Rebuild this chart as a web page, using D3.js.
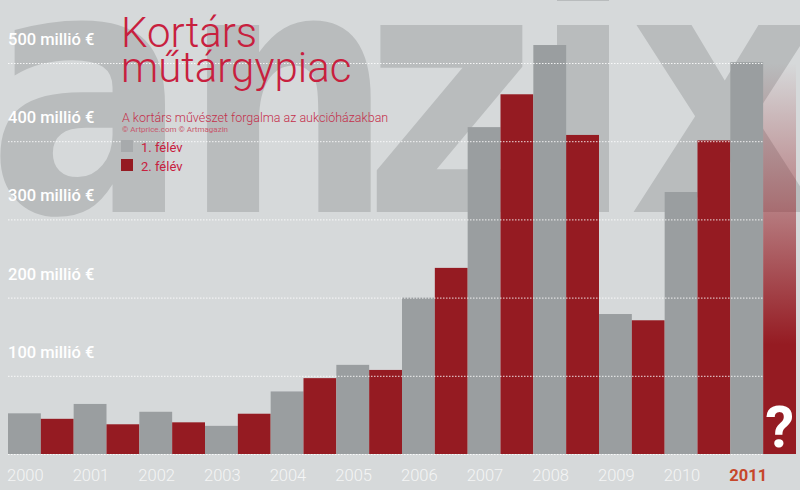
<!DOCTYPE html>
<html>
<head>
<meta charset="utf-8">
<script src="https://cdn.jsdelivr.net/npm/d3@7/dist/d3.min.js"></script>
<style>
  html, body { margin: 0; padding: 0; background: #d6d9da; }
  svg { display: block; }
</style>
</head>
<body>
<div id="chart"></div>
<script>
// adatok (millió €), leolvasva
const years = ['2000', '2001', '2002', '2003', '2004', '2005', '2006', '2007', '2008', '2009', '2010', '2011'];
const firstHalf = [52, 64, 54, 36, 80, 114, 200, 418, 523, 179, 335, 501];
const secondHalf = [45, 38, 40.5, 51.5, 97, 107.5, 238, 460, 408, 171, 401, null]; // 2011 második félév: ?
const yTicks = [0, 100, 200, 300, 400, 500];
const seriesLabels = ['1. félév', '2. félév'];
const highlightYear = '2011';

const width = 800, height = 490;
const grey = '#9a9ea0', red = '#951b22', titleRed = '#c8203e';

const svg = d3.select('#chart').append('svg')
  .attr('width', width)
  .attr('height', height);

svg.append('rect').attr('width', width).attr('height', height).attr('fill', '#d6d9da');

// háttér felirat
const mark = svg.append('g')
  .attr('fill', '#b9bcbd')
  .style('font-family', 'DejaVu Sans')
  .style('font-weight', 'bold')
  .style('font-size', '342px');
[['a', 88], ['n', 288], ['z', 450], ['i', 583], ['x', 725]].forEach(([ch, cx]) => {
  mark.append('text')
    .attr('transform', `translate(${cx},212) scale(0.87,1)`)
    .attr('text-anchor', 'middle')
    .text(ch);
});

const x = d3.scaleBand().domain(years).range([8, 796]).padding(0);
const half = d3.scaleBand().domain([0, 1]).range([0, x.bandwidth()]);
const y = d3.scaleLinear().domain([0, 500]).range([454, 63]);

const defs = svg.append('defs');
const grad = defs.append('linearGradient')
  .attr('id', 'fade')
  .attr('x1', 0).attr('y1', 0).attr('x2', 0).attr('y2', 1);
grad.append('stop').attr('offset', '0').attr('stop-color', red).attr('stop-opacity', 0);
grad.append('stop').attr('offset', '0.35').attr('stop-color', red).attr('stop-opacity', 0.45);
grad.append('stop').attr('offset', '0.72').attr('stop-color', red).attr('stop-opacity', 1);
grad.append('stop').attr('offset', '1').attr('stop-color', red).attr('stop-opacity', 1);

// oszlopok
const groups = svg.append('g').selectAll('g')
  .data(years.map((yr, i) => ({ year: yr, v1: firstHalf[i], v2: secondHalf[i] })))
  .enter()
  .append('g')
  .attr('transform', d => `translate(${x(d.year)},0)`);

groups.append('rect')
  .attr('x', half(0))
  .attr('width', half.bandwidth())
  .attr('y', d => y(d.v1))
  .attr('height', d => y(0) - y(d.v1))
  .attr('fill', grey);

groups.filter(d => d.v2 != null).append('rect')
  .attr('x', half(1))
  .attr('width', half.bandwidth())
  .attr('y', d => y(d.v2))
  .attr('height', d => y(0) - y(d.v2))
  .attr('fill', red);

// 2011: ismeretlen, átmenetes oszlop
const last = groups.filter(d => d.v2 == null);
last.append('rect')
  .attr('x', half(1))
  .attr('width', half.bandwidth())
  .attr('y', y(y.domain()[1]))
  .attr('height', y(0) - y(y.domain()[1]))
  .attr('fill', 'url(#fade)');
last.append('text')
  .attr('x', half(1) + half.bandwidth() / 2)
  .attr('y', y(0) - 7)
  .attr('text-anchor', 'middle')
  .style('font-family', 'Roboto')
  .style('font-weight', 700)
  .style('font-size', '58px')
  .attr('fill', '#fff')
  .text('?');

// rácsvonalak
svg.append('g').selectAll('line')
  .data(yTicks)
  .enter()
  .append('line')
  .attr('x1', 8)
  .attr('x2', x(highlightYear) + half(1))
  .attr('y1', d => y(d) + 0.5)
  .attr('y2', d => y(d) + 0.5)
  .attr('stroke', '#fff')
  .attr('stroke-opacity', 0.85)
  .attr('stroke-width', 1)
  .attr('stroke-dasharray', '1.5 1.5');

// y feliratok
svg.append('g').selectAll('text')
  .data(yTicks.filter(t => t > 0))
  .enter()
  .append('text')
  .attr('x', 8)
  .attr('y', d => y(d) - 18)
  .style('font-family', 'Roboto')
  .style('font-weight', 500)
  .style('font-size', '16.5px')
  .attr('fill', '#fff')
  .text(d => `${d} millió €`);

// x feliratok
svg.append('g').selectAll('text')
  .data(years)
  .enter()
  .append('text')
  .attr('x', d => x(d) - 1)
  .attr('y', 481)
  .style('font-family', 'Roboto')
  .style('font-weight', d => d === highlightYear ? 700 : 300)
  .style('font-size', '16.5px')
  .attr('fill', d => d === highlightYear ? '#c6472b' : '#f4f5f5')
  .text(d => d);

// cím
const title = svg.append('text')
  .attr('x', 121)
  .style('font-family', 'Roboto')
  .style('font-weight', 300)
  .style('font-size', '42px')
  .attr('fill', titleRed);
title.append('tspan').attr('x', 121).attr('y', 47).text('Kortárs');
title.append('tspan').attr('x', 121).attr('y', 82).text('műtárgypiac');

svg.append('text')
  .attr('x', 122).attr('y', 122)
  .style('font-family', 'Roboto')
  .style('font-weight', 300)
  .style('font-size', '12.5px')
  .attr('fill', '#c4304c')
  .text('A kortárs művészet forgalma az aukcióházakban');

svg.append('text')
  .attr('x', 122).attr('y', 132)
  .style('font-family', 'Roboto')
  .style('font-size', '8px')
  .attr('fill', '#c8596d')
  .text('© Artprice.com © Artmagazin');

// jelmagyarázat
const legend = svg.append('g').selectAll('g')
  .data(seriesLabels)
  .enter()
  .append('g')
  .attr('transform', (d, i) => `translate(121,${140 + i * 19})`);
legend.append('rect')
  .attr('width', 12).attr('height', 12)
  .attr('fill', (d, i) => i === 0 ? '#a7aaac' : red);
legend.append('text')
  .attr('x', 20).attr('y', 11.5)
  .style('font-family', 'Roboto')
  .style('font-weight', 400)
  .style('font-size', '13px')
  .attr('fill', titleRed)
  .text(d => d);
</script>
</body>
</html>
